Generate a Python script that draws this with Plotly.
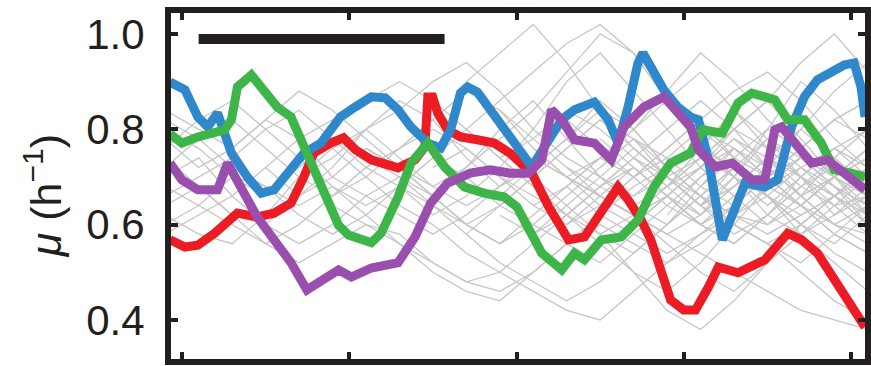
import plotly.graph_objects as go

# ---------------- data ----------------
# time grid for the grey (background) traces
grey_t = [-1, 1, 3, 5, 7, 9, 11, 13, 15, 17, 19, 21, 23, 25, 27, 29, 31, 33, 35, 37, 39, 41]
N = None
grey_traces = [
    [.80, .76, .70, .66, .72, .78, .74, .70, .66, .72, .80, .86, .78, .70, .64, .68, .74, .70, .66, .72, .76, .70],
    [.66, .70, .74, .80, .84, .78, .72, .76, .82, .88, .84, .76, .70, .66, .62, .66, .72, .78, .74, .68, .64, .66],
    [.60, .64, .70, .68, .62, .58, .62, .68, .74, .70, .64, .60, .56, .52, .58, .64, .70, .74, .80, .76, .70, .66],
    [.74, .68, .62, .60, .66, .72, .80, .86, .82, .74, .68, .72, .78, .84, .80, .72, .66, .62, .60, .64, .70, .74],
    [.84, .80, .76, .82, .88, .84, .78, .72, .66, .60, .56, .60, .66, .72, .78, .74, .68, .64, .70, .76, .82, .78],
    [.70, .74, .66, .60, .56, .60, .66, .70, .64, .58, .52, .48, .44, .48, .54, .60, .66, .62, .58, .62, .66, .60],
    [.62, .58, .56, .62, .70, .76, .70, .64, .60, .54, .50, .46, .42, .40, .46, .52, .58, .62, .66, .60, .54, .50],
    [.76, .82, .86, .80, .74, .68, .64, .68, .74, .80, .86, .92, .98, 1.02, .96, .88, .80, .74, .70, .76, .82, .86],
    [.68, .64, .60, .56, .52, .56, .60, .58, .52, .48, .46, .50, .56, .62, .68, .72, .76, .72, .68, .64, .60, .58],
    [.72, .78, .82, .76, .70, .66, .70, .76, .80, .76, .70, .64, .60, .64, .70, .76, .82, .88, .92, .86, .78, .72],
    [.58, .62, .66, .72, .78, .82, .86, .90, .86, .80, .74, .78, .84, .80, .74, .68, .72, .76, .70, .64, .58, .54],
    [.82, .78, .72, .68, .64, .68, .62, .56, .50, .46, .44, .50, .56, .60, .56, .52, .56, .62, .68, .72, .68, .64],
    [.64, .68, .62, .56, .60, .66, .72, .68, .62, .66, .72, .80, .90, .96, .88, .80, .72, .66, .72, .80, .88, .94],
    [.78, .72, .76, .82, .78, .70, .66, .62, .58, .62, .68, .74, .70, .66, .62, .58, .54, .50, .46, .42, .40, .38],
    [N, N, N, N, .70, .74, .80, .84, .90, .94, .88, .80, .74, .70, .66, .70, .74, .80, .76, .70, .66, .62],
    [N, N, N, N, N, .64, .60, .56, .52, .48, .50, .56, .62, .68, .72, .66, .60, .64, .70, .74, .68, .62],
    [N, N, N, N, N, N, .76, .72, .68, .72, .78, .84, .92, 1.00, .96, .86, .76, .70, .66, .62, .66, .72],
    [N, N, N, N, N, N, N, .68, .64, .60, .64, .70, .64, .58, .50, .42, .38, .44, .52, .60, .66, .62],
    [N, N, N, N, N, N, N, N, .72, .76, .70, .66, .62, .68, .74, .80, .86, .80, .72, .66, .70, .76],
    [N, N, N, N, N, N, N, N, N, .58, .64, .70, .76, .82, .78, .72, .66, .60, .56, .60, .66, .72],
    [N, N, N, N, N, N, N, N, N, .80, .74, .68, .62, .58, .62, .68, .74, .80, .86, .94, 1.00, .92],
    [N, N, N, N, N, N, N, N, N, N, .66, .72, .78, .86, .80, .72, .66, .60, .56, .52, .58, .64],
    [N, N, N, N, N, N, N, N, N, N, .74, .68, .62, .56, .50, .46, .52, .60, .68, .74, .70, .66],
    [N, N, N, N, N, N, N, N, N, N, .62, .58, .64, .70, .76, .70, .64, .70, .78, .74, .68, .60],
    [N, N, N, N, N, N, N, N, N, N, N, .70, .76, .82, .76, .70, .64, .60, .56, .50, .44, .40],
    [N, N, N, N, N, N, N, N, N, N, N, .64, .68, .74, .80, .88, .96, .90, .82, .76, .70, .74],
    [N, N, N, N, N, N, N, N, N, N, N, .76, .70, .64, .60, .66, .72, .78, .72, .66, .60, .56],
    [N, N, N, N, N, N, N, N, N, N, N, N, .60, .66, .72, .66, .60, .56, .62, .68, .74, .80],
    [N, N, N, N, N, N, N, N, N, N, N, N, .82, .76, .70, .74, .80, .76, .70, .64, .58, .54],
    [N, N, N, N, N, N, N, N, N, N, N, N, .68, .62, .58, .54, .58, .64, .70, .76, .82, .86],
    [N, N, N, N, N, N, N, N, N, N, N, N, N, .72, .78, .70, .64, .68, .74, .66, .60, .64],
    [N, N, N, N, N, N, N, N, N, N, N, N, N, .58, .54, .60, .68, .76, .72, .66, .70, .62],
    [N, N, N, N, N, N, N, N, N, N, N, N, N, .78, .72, .66, .62, .70, .80, .90, .84, .76],
    [N, N, N, N, N, N, N, N, N, N, N, N, N, N, .66, .72, .78, .70, .62, .58, .62, .68],
    [N, N, N, N, N, N, N, N, N, N, N, N, N, N, .74, .68, .62, .68, .74, .70, .64, .58],
    [N, N, N, N, N, N, N, N, N, N, N, N, N, N, N, .70, .64, .72, .78, .72, .66, .60],
    [N, N, N, N, N, N, N, N, N, N, N, N, N, N, N, .62, .70, .76, .70, .64, .70, .76],
    [N, N, N, N, N, N, N, N, N, N, N, N, N, N, N, N, .68, .74, .66, .60, .66, .72],
    [N, N, N, N, N, N, N, N, N, N, N, N, N, N, N, N, .76, .70, .64, .70, .76, .80],
    [N, N, N, N, N, N, N, N, N, .90, .96, 1.02, .94, .84, .76, .70, .64, .58, .62, .68, .72, .66],
    [N, N, N, N, N, N, N, N, N, N, N, .58, .62, .68, .74, .70, .64, .68, .74, .80, .74, .68],
    [N, N, N, N, N, N, N, N, N, N, N, N, .72, .66, .62, .66, .72, .80, .86, .78, .70, .64],
    [N, N, N, N, N, N, N, N, N, N, N, N, N, .64, .70, .76, .82, .74, .66, .60, .56, .62],
    [N, N, N, N, N, N, N, N, N, N, N, N, N, N, .60, .66, .60, .56, .62, .70, .76, .72],
    [N, N, N, N, N, N, N, N, N, N, N, N, N, N, N, .68, .76, .84, .78, .70, .62, .66],
    [N, N, N, N, N, N, N, N, N, N, N, N, N, N, N, N, .72, .66, .60, .66, .74, .68],
    [N, N, N, N, N, N, N, N, N, N, N, N, .70, .74, .80, .86, .92, .84, .76, .70, .66, .70],
    [N, N, N, N, N, N, N, N, N, N, N, N, N, N, .76, .70, .66, .72, .66, .58, .52, .46],
    [N, N, N, N, N, N, N, N, N, N, N, N, N, .66, .62, .56, .50, .46, .52, .58, .64, .70],
    [N, N, N, N, N, N, N, N, N, N, .84, .78, .72, .68, .64, .60, .66, .72, .68, .64, .70, .76],
    [N, N, N, N, N, .76, .80, .74, .68, .64, .68, .74, .70, .66, .62, .58, .62, .68, .74, .70, .66, .72],
    [N, N, N, .72, .66, .70, .76, .72, .66, .60, .56, .62, .68, .74, .70, .64, .60, .66, .70, .74, .68, .64],
]

blue_t = [-0.71, 0.18, 0.95, 1.54, 2.13, 2.96, 3.91, 4.74, 5.51, 6.52, 7.29, 8.30, 9.48, 10.37,
          11.32, 12.15, 12.92, 13.69, 14.70, 15.47, 16.06, 16.65, 17.07, 17.66, 18.43, 19.26,
          20.03, 20.92, 21.93, 22.70, 23.47, 24.65, 25.48, 26.07, 26.67, 27.26, 27.56, 28.03,
          28.80, 29.63, 30.40, 30.87, 31.47, 32.30, 33.07, 33.66, 34.84, 35.61, 36.44, 37.21,
          37.99, 38.81, 39.58, 40.18, 40.59, 40.83]
blue_mu = [.899, .883, .826, .805, .834, .750, .700, .666, .673, .715, .750, .771, .826, .847,
           .868, .866, .841, .805, .771, .761, .799, .876, .889, .878, .841, .805,
           .771, .721, .778, .820, .841, .857, .820, .771, .847, .939, .960, .931,
           .883, .847, .826, .820, .736, .568, .637, .687, .679, .694, .805, .868,
           .904, .918, .935, .939, .889, .826]

red_t = [-0.71, 0.18, 0.95, 1.96, 3.32, 4.50, 5.51, 6.52, 7.29, 7.88, 8.89, 9.66, 10.37, 11.32,
         12.92, 13.93, 14.52, 14.70, 14.99, 15.29, 15.88, 16.65, 17.66, 18.67, 19.61, 20.92,
         21.93, 23.11, 24.06, 25.24, 26.07, 26.67, 27.44, 28.03, 28.62, 29.21, 29.99, 30.70,
         31.47, 32.06, 33.24, 34.84, 36.21, 37.04, 37.99, 38.99, 40.00, 40.83]
red_mu = [.568, .553, .557, .582, .624, .616, .624, .645, .700, .750, .771, .782, .757, .736,
          .719, .736, .763, .868, .868, .834, .799, .784, .778, .771, .750, .708,
          .637, .568, .574, .637, .679, .652, .610, .568, .499, .442, .421, .421,
          .469, .511, .499, .526, .582, .568, .540, .484, .427, .385]

green_t = [-0.71, 0.00, 0.95, 2.55, 2.96, 3.32, 4.15, 4.74, 5.69, 6.52, 7.29, 8.06, 8.89, 9.36,
           9.96, 11.32, 11.91, 12.92, 13.69, 14.70, 15.70, 16.89, 18.07, 19.26, 20.03, 20.50,
           21.51, 22.70, 23.47, 24.06, 25.07, 26.25, 27.26, 28.21, 29.21, 30.40, 31.11, 32.30,
           33.24, 34.07, 35.44, 36.21, 37.21, 38.22, 38.99, 40.00, 40.83]
green_mu = [.790, .771, .784, .799, .820, .889, .914, .889, .847, .826, .763, .700, .637, .599,
            .578, .562, .582, .658, .729, .771, .721, .679, .666, .658, .637, .603,
            .540, .505, .540, .526, .568, .574, .610, .679, .729, .750, .799, .792,
            .855, .876, .862, .820, .820, .771, .715, .708, .700]

purple_t = [-0.71, 0.00, 0.95, 2.13, 2.73, 3.56, 4.50, 5.51, 6.52, 7.47, 8.47, 9.36, 10.13, 11.32,
            12.92, 13.93, 14.87, 15.88, 17.24, 18.43, 19.61, 20.74, 21.51, 22.10, 22.70, 23.47,
            24.65, 25.66, 26.43, 27.62, 28.80, 29.63, 30.40, 30.87, 31.88, 32.89, 34.07, 34.84,
            35.44, 35.85, 36.80, 37.63, 38.58, 39.58, 40.83]
purple_mu = [.729, .694, .673, .673, .729, .679, .616, .568, .520, .463, .484, .505, .490, .509,
             .520, .574, .645, .687, .708, .715, .708, .708, .736, .841, .820, .778,
             .771, .736, .805, .847, .868, .834, .805, .757, .721, .729, .694, .694,
             .799, .805, .763, .729, .736, .708, .673]

y_ticks = [0.4, 0.6, 0.8, 1.0]
x_ticks = [0, 10, 20, 30, 40]
scale_bar_t = [1.0, 15.7]
scale_bar_mu = 0.9895

# ---------------- figure ----------------
INK = "#231f20"
FONT = "Liberation Sans, Arial, sans-serif"
fig = go.Figure()

for g in grey_traces:
    fig.add_trace(go.Scatter(x=grey_t, y=g, mode="lines",
                             line=dict(color="#c6c6c6", width=1.3),
                             hoverinfo="skip", showlegend=False))

for t, mu, col in [(red_t, red_mu, "#ec1c24"),
                   (blue_t, blue_mu, "#2f88cc"),
                   (green_t, green_mu, "#3db549"),
                   (purple_t, purple_mu, "#9a4eae")]:
    fig.add_trace(go.Scatter(x=t, y=mu, mode="lines",
                             line=dict(color=col, width=9),
                             showlegend=False))

fig.add_shape(type="line", xref="x", yref="y",
              x0=scale_bar_t[0], x1=scale_bar_t[1], y0=scale_bar_mu, y1=scale_bar_mu,
              line=dict(color=INK, width=10))

fig.add_annotation(text="<i>μ</i> (h<sup>−1</sup>)", xref="paper", yref="paper",
                   x=-0.184, y=0.471, xanchor="center", yanchor="middle",
                   textangle=-90, showarrow=False,
                   font=dict(family=FONT, size=43, color=INK))

fig.update_xaxes(range=[-0.652, 40.83], tickvals=x_ticks, showticklabels=False,
                 ticks="inside", ticklen=7, tickwidth=4, tickcolor=INK,
                 showline=True, linewidth=6, linecolor=INK, mirror="ticks",
                 showgrid=False, zeroline=False)
fig.update_yaxes(range=[0.318, 1.044], tickvals=y_ticks, tickformat=".1f",
                 ticks="inside", ticklen=7, tickwidth=4, tickcolor=INK,
                 showline=True, linewidth=6, linecolor=INK, mirror="ticks",
                 showgrid=False, zeroline=False, ticklabelstandoff=12,
                 tickfont=dict(family=FONT, size=42, color=INK))

fig.update_layout(width=871, height=366,
                  margin=dict(l=171, r=0, t=13, b=7),
                  plot_bgcolor="white", paper_bgcolor="white")

fig.write_html("out.html")
